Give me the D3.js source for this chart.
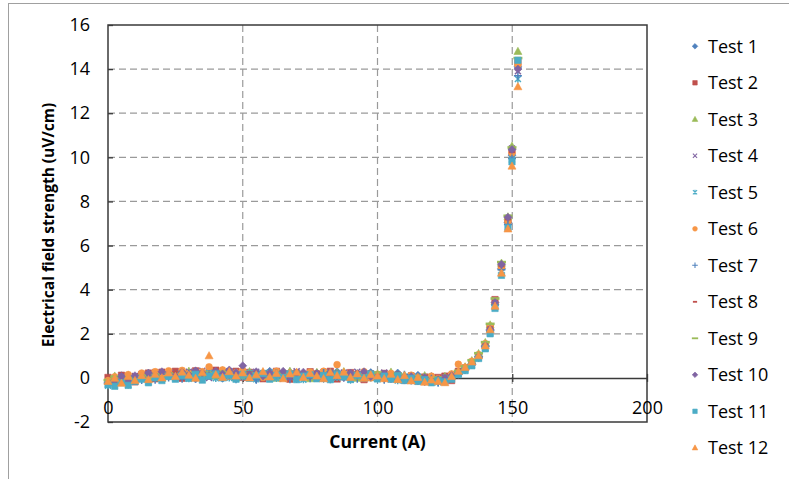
<!DOCTYPE html>
<html><head><meta charset="utf-8">
<script src="https://cdn.jsdelivr.net/npm/d3@7"></script>
<style>
html,body{margin:0;padding:0;background:#fff;}
svg{display:block;}
text{font-family:"Open Sans",sans-serif;fill:#000;}
</style></head>
<body>
<svg id="chart" width="789" height="479"></svg>
<script>
// ---- data ----
const currents = [0,2.5,5,7.5,10,12.5,15,17.5,20,22.5,25,27.5,30,32.5,35,37.5,40,42.5,45,47.5,
  50,52.5,55,57.5,60,62.5,65,67.5,70,72.5,75,77.5,80,82.5,85,87.5,90,92.5,95,97.5,
  100,102.5,105,107.5,110,112.5,115,117.5,120,122.5,125,127.5,130,
  132.5,135,137.5,140,141.8,143.6,146,148.4,149.9,152.1];

const test1 = [-0.20,-0.05,0.10,-0.15,0.02,0.18,-0.02,0.22,0.05,0.25,
  0.00,0.28,0.12,-0.05,0.20,0.30,0.08,-0.02,0.24,0.10,
  0.26,0.04,-0.06,0.18,0.30,0.02,0.12,0.25,-0.04,0.15,
  0.06,0.22,-0.03,0.14,0.28,0.05,-0.05,0.20,0.08,0.24,
  0.12,-0.04,0.10,0.22,0.00,-0.08,0.12,-0.12,0.06,-0.05,
  -0.15,0.08,0.22,
  0.38,0.62,0.95,1.42,2.15,3.35,4.95,7.05,10.10,14.10];
const test2 = [0.02,-0.22,0.12,-0.08,-0.18,0.15,0.22,-0.04,0.26,0.10,
  0.30,-0.02,0.20,0.32,0.06,0.24,0.35,0.04,0.16,0.30,
  0.02,0.25,0.12,-0.04,0.20,0.30,0.08,-0.06,0.22,0.05,
  0.28,0.00,0.16,0.30,-0.05,0.10,0.24,0.02,-0.08,0.18,
  0.04,0.20,-0.04,0.12,-0.10,0.08,-0.14,0.04,-0.18,0.02,
  0.08,-0.12,0.30,
  0.45,0.70,1.00,1.50,2.30,3.55,5.05,7.15,10.30,14.30];
const test3 = [-0.15,0.08,-0.20,0.12,-0.06,0.05,0.20,0.10,-0.02,0.24,
  0.12,0.20,0.30,0.02,0.16,0.26,0.08,0.32,0.18,0.00,
  0.18,0.28,0.04,0.22,0.10,-0.02,0.20,0.30,0.06,0.16,
  -0.04,0.25,0.10,0.02,0.22,0.28,0.04,-0.02,0.24,0.08,
  0.18,0.02,0.26,-0.04,0.12,0.00,-0.08,0.10,-0.02,-0.12,
  0.06,0.14,0.28,
  0.50,0.78,1.10,1.60,2.40,3.45,5.20,7.30,10.50,14.80];
const test4 = [-0.30,-0.15,0.05,-0.12,0.08,-0.04,0.16,0.25,0.02,0.14,
  0.22,0.04,0.28,0.12,0.32,0.00,0.22,0.10,0.30,0.14,
  0.06,0.22,0.28,0.02,0.14,0.24,-0.04,0.18,0.30,0.08,
  0.22,0.06,0.26,-0.02,0.12,0.24,0.08,0.28,-0.04,0.18,
  0.06,0.24,-0.02,0.12,-0.06,0.10,-0.10,-0.14,0.04,-0.10,
  0.02,0.12,0.18,
  0.42,0.66,0.98,1.48,2.25,3.50,5.10,7.25,10.40,13.90];
const test5 = [-0.35,-0.25,-0.15,-0.32,-0.08,0.00,-0.18,0.08,-0.06,0.12,
  -0.02,0.16,-0.04,0.20,0.06,0.24,-0.02,0.18,0.00,0.10,
  0.04,0.22,-0.06,0.12,0.24,-0.02,0.14,0.04,0.20,-0.08,
  0.08,0.18,-0.04,0.22,0.02,0.12,-0.10,0.14,0.20,0.00,
  -0.06,0.10,0.16,-0.12,0.06,-0.08,0.04,-0.16,0.00,-0.20,
  -0.10,-0.04,0.20,
  0.35,0.58,0.90,1.35,2.05,3.20,4.80,6.85,9.90,13.55];
const test6 = [-0.12,0.05,-0.10,0.15,-0.02,0.22,0.06,0.28,0.12,0.32,
  0.14,0.34,0.20,0.06,0.28,0.50,0.18,0.36,0.08,0.24,
  0.34,0.10,0.22,0.02,0.16,0.30,0.08,0.22,-0.02,0.14,
  0.26,0.04,0.30,0.10,0.60,0.18,0.02,0.14,0.28,0.00,
  0.16,-0.02,0.20,0.06,-0.06,0.12,0.00,-0.08,0.08,-0.04,
  -0.12,0.18,0.62,
  0.48,0.75,1.05,1.55,2.35,3.40,5.00,7.10,10.20,14.20];
const test7 = [-0.22,-0.30,-0.06,-0.20,0.02,-0.10,0.10,-0.08,0.18,0.02,
  0.12,-0.04,0.20,0.06,-0.02,0.16,0.24,0.00,0.12,-0.06,
  0.18,0.04,-0.08,0.14,0.02,0.22,0.08,-0.06,0.18,0.06,
  -0.02,0.16,0.22,-0.06,0.10,0.02,0.18,-0.04,0.12,0.20,
  0.02,-0.08,0.10,-0.04,0.14,-0.12,0.02,-0.18,-0.04,-0.22,
  -0.12,0.00,0.24,
  0.40,0.64,0.92,1.40,2.12,3.30,4.90,6.95,9.95,13.70];
const test8 = [-0.14,-0.20,0.08,-0.08,0.14,-0.04,0.18,0.04,0.24,0.06,
  0.26,0.12,0.02,0.30,0.16,0.04,0.28,0.14,0.34,0.00,
  0.12,0.24,0.04,0.28,0.10,0.06,0.26,0.00,0.20,0.08,
  0.16,0.28,0.02,0.12,0.24,-0.04,0.10,0.26,0.00,0.14,
  0.22,-0.02,0.10,0.18,-0.06,0.04,-0.10,0.08,-0.14,-0.02,
  -0.16,0.08,0.26,
  0.44,0.68,1.02,1.52,2.28,3.52,5.08,7.20,10.25,14.00];
const test9 = [-0.10,0.06,-0.16,0.04,-0.08,0.10,-0.04,0.16,0.02,0.20,
  0.06,0.22,0.10,0.26,0.12,0.24,0.04,0.28,0.14,0.22,
  0.04,0.18,0.26,0.08,0.00,0.18,0.28,0.06,0.12,0.24,
  0.10,0.02,0.18,0.26,0.06,0.14,0.22,-0.02,0.12,0.06,
  0.24,0.08,0.00,0.18,0.04,-0.06,0.06,-0.04,-0.10,0.02,
  -0.04,0.06,0.32,
  0.52,0.80,1.12,1.62,2.45,3.60,5.25,7.35,10.45,14.50];
const test10 = [-0.26,-0.12,0.06,-0.16,0.10,0.02,0.22,0.10,0.28,0.16,
  0.08,0.26,0.14,0.32,0.22,0.10,0.30,0.18,0.36,0.24,
  0.55,0.14,0.28,0.08,0.22,0.14,0.30,0.06,0.20,0.26,
  0.08,0.20,0.04,0.26,0.16,0.02,0.22,0.12,0.28,0.06,
  0.04,0.18,-0.04,0.08,-0.10,0.06,-0.14,0.02,-0.18,-0.08,
  0.00,0.10,0.16,
  0.36,0.60,0.96,1.45,2.20,3.42,5.15,7.28,10.35,14.00];
const test11 = [-0.30,-0.38,-0.22,-0.34,-0.16,-0.06,-0.22,0.00,-0.12,0.06,
  -0.06,0.10,-0.02,0.16,-0.10,0.08,0.18,0.00,0.12,-0.06,
  0.16,-0.02,0.10,0.20,-0.06,0.12,0.02,0.18,-0.08,0.08,
  0.14,-0.04,0.10,-0.08,0.16,0.04,-0.06,0.12,0.00,0.18,
  -0.04,0.08,-0.06,0.10,-0.12,-0.02,-0.16,-0.08,-0.22,-0.12,
  -0.18,-0.06,0.15,
  0.33,0.55,0.88,1.32,2.00,3.15,4.65,6.80,9.80,14.40];
const test12 = [-0.16,-0.02,-0.24,0.06,-0.12,0.10,-0.08,0.16,0.00,0.22,
  0.06,0.26,0.12,-0.02,0.24,1.00,0.14,0.02,0.28,0.08,
  0.22,0.00,0.14,0.28,0.04,0.20,-0.04,0.18,0.26,0.02,
  0.20,0.08,-0.04,0.24,0.10,0.26,0.02,0.18,-0.02,0.14,
  0.08,-0.04,0.16,-0.08,0.10,-0.14,0.02,-0.20,-0.10,-0.16,
  -0.22,0.06,0.30,
  0.47,0.72,1.00,1.45,2.18,3.25,4.75,6.75,9.60,13.20];

const seriesNames = ["Test 1","Test 2","Test 3","Test 4","Test 5","Test 6",
  "Test 7","Test 8","Test 9","Test 10","Test 11","Test 12"];
const seriesValues = [test1,test2,test3,test4,test5,test6,test7,test8,test9,test10,test11,test12];
const seriesColors = ["#4F81BD","#C0504D","#9BBB59","#8064A2","#4BACC6","#F79646",
  "#4F81BD","#C0504D","#9BBB59","#8064A2","#4BACC6","#F79646"];
const seriesMarkers = ["diamond","square","triangle","times","asterisk","circle",
  "plus","dash","longdash","diamond","square","triangle"];

const xTicks = [0,50,100,150,200];
const yTicks = [-2,0,2,4,6,8,10,12,14,16];
const xTitle = "Current (A)";
const yTitle = "Electrical field strength (uV/cm)";

// ---- layout ----
const svg = d3.select("#chart");
const plot = {left:108, right:647, top:25, bottom:422};
const x = d3.scaleLinear().domain([0,200]).range([plot.left, plot.right]);
const y = d3.scaleLinear().domain([-2,16]).range([plot.bottom, plot.top]);

// outer chart border
svg.append("rect").attr("x",8.5).attr("y",3.5).attr("width",800).attr("height",500)
  .attr("fill","#fff").attr("stroke","#a0a0a0").attr("stroke-width",1);

// gridlines
const grid = svg.append("g");
grid.selectAll("line.h").data(yTicks.filter(v=>v!==-2 && v!==0 && v!==16)).join("line")
  .attr("x1",plot.left).attr("x2",plot.right)
  .attr("y1",d=>y(d)).attr("y2",d=>y(d))
  .attr("stroke","#9a9a9a").attr("stroke-width",1.2).attr("stroke-dasharray","7,4");
grid.selectAll("line.v").data(xTicks.filter(v=>v!==0 && v!==200)).join("line")
  .attr("y1",plot.top).attr("y2",plot.bottom)
  .attr("x1",d=>x(d)).attr("x2",d=>x(d))
  .attr("stroke","#9a9a9a").attr("stroke-width",1.2).attr("stroke-dasharray","7,4");

// plot border
svg.append("rect").attr("x",plot.left).attr("y",plot.top)
  .attr("width",plot.right-plot.left).attr("height",plot.bottom-plot.top)
  .attr("fill","none").attr("stroke","#3a3a3a").attr("stroke-width",1.5);

// y axis
const yAxis = svg.append("g").attr("transform",`translate(${plot.left},0)`)
  .call(d3.axisLeft(y).tickValues(yTicks).tickFormat(d=>String(d))
    .tickSizeInner(-5).tickSizeOuter(0).tickPadding(18));
yAxis.select(".domain").remove();
yAxis.selectAll("line").attr("stroke","#3a3a3a").attr("stroke-width",1.3);
yAxis.selectAll("text").attr("font-size","18px").attr("font-family","Open Sans").attr("fill","#000");

// x axis at y=0
const xAxis = svg.append("g").attr("transform",`translate(0,${y(0)})`)
  .call(d3.axisBottom(x).tickValues(xTicks).tickFormat(d=>String(d))
    .tickSizeInner(4).tickSizeOuter(0).tickPadding(19));
xAxis.select(".domain").attr("stroke","#3a3a3a").attr("stroke-width",1.5);
xAxis.selectAll("line").attr("stroke","#3a3a3a").attr("stroke-width",1.3).attr("y1",-4);
xAxis.selectAll("text").attr("font-size","18px").attr("font-family","Open Sans").attr("fill","#000");

// axis titles
svg.append("text").attr("x",(plot.left+plot.right)/2).attr("y",448)
  .attr("text-anchor","middle").attr("font-size","17.5px").attr("font-weight","bold")
  .text(xTitle);
svg.append("text").attr("transform",`translate(54,225) rotate(-90)`)
  .attr("text-anchor","middle").attr("font-size","15.5px").attr("font-weight","bold")
  .text(yTitle);

// marker shapes
function markerPath(type, k){
  const r = 4*k;
  switch(type){
    case "diamond": return `M0,${-r}L${r},0L0,${r}L${-r},0Z`;
    case "square": { const s=3.2*k; return `M${-s},${-s}H${s}V${s}H${-s}Z`; }
    case "triangle": return `M0,${-4.2*k}L${4*k},${3*k}L${-4*k},${3*k}Z`;
    case "times": { const s=3*k; return `M${-s},${-s}L${s},${s}M${s},${-s}L${-s},${s}`; }
    case "asterisk": { const s=3*k; return `M${-s},${-s}L${s},${s}M${s},${-s}L${-s},${s}M0,${-3.6*k}V${3.6*k}`; }
    case "circle": { const c=3.4*k; return `M${c},0A${c},${c} 0 1,1 ${-c},0A${c},${c} 0 1,1 ${c},0Z`; }
    case "plus": { const s=4*k; return `M${-s},0H${s}M0,${-s}V${s}`; }
    case "dash": { const s=3*k; return `M${-s},0H${s}`; }
    case "longdash": { const s=4.5*k; return `M${-s},0H${s}`; }
  }
}
const strokeOnly = new Set(["times","asterisk","plus","dash","longdash"]);
function styleMarker(sel, type, color, k){
  sel.attr("d", markerPath(type,k));
  if (strokeOnly.has(type)) {
    const w = (type==="dash"||type==="longdash") ? 2.6*k : 1.5*k;
    sel.attr("fill","none").attr("stroke",color).attr("stroke-width",w);
  } else {
    sel.attr("fill",color).attr("stroke",color).attr("stroke-width",0.6);
  }
}

// data points
seriesValues.forEach((vals, si) => {
  const pts = vals.map((v,i)=>({c:currents[i], v:v})).filter(d=>d.c!==undefined);
  const g = svg.append("g");
  g.selectAll("path").data(pts).join("path")
    .attr("transform", d=>`translate(${x(d.c)},${y(d.v)})`)
    .call(sel=>styleMarker(sel, seriesMarkers[si], seriesColors[si], 1));
});

// legend
const legend = svg.append("g");
seriesNames.forEach((name, i) => {
  const cy = 46.3 + i*36.5;
  legend.append("path").attr("transform",`translate(695,${cy})`)
    .call(sel=>styleMarker(sel, seriesMarkers[i], seriesColors[i], 0.7));
  legend.append("text").attr("x",708).attr("y",cy).attr("dy","0.35em")
    .attr("font-size","18px").text(name);
});
</script>
</body></html>
